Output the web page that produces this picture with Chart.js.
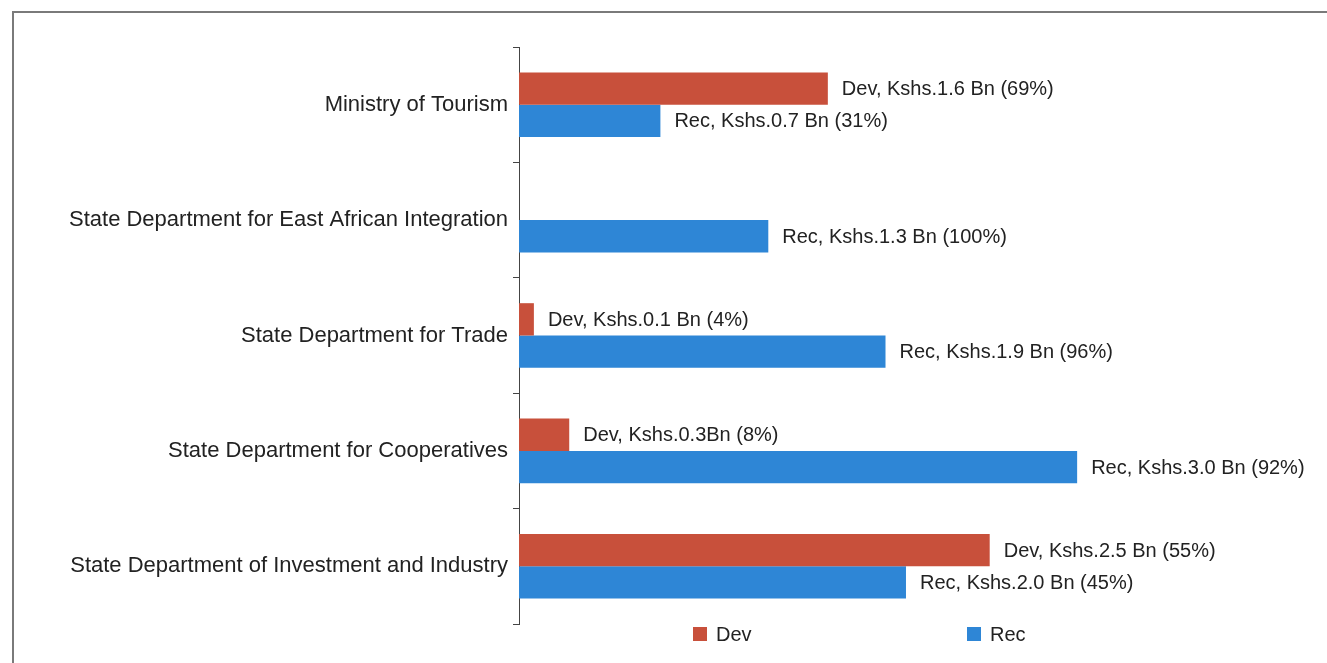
<!DOCTYPE html>
<html>
<head>
<meta charset="utf-8">
<script src="https://cdn.jsdelivr.net/npm/chart.js@4"></script>
<style>
  body { margin: 0; background: #fff; font-family: "Liberation Sans", Arial, sans-serif; }
  #wrap { position: relative; width: 1327px; height: 663px; overflow: hidden; }
  #frame { position: absolute; left: 12px; top: 11px; width: 1400px; height: 700px;
           border-top: 2px solid #7a7a7a; border-left: 2px solid #7a7a7a; }
  #barChart { position: absolute; left: 0; top: 0; }
  .lg-box { position: absolute; width: 14px; height: 14px; }
  .lg-text { position: absolute; font-size: 20px; color: #222; line-height: 20px; }
</style>
</head>
<body>
<div id="wrap">
  <div id="frame"></div>
  <canvas id="barChart" width="1327" height="663"></canvas>
  <div id="legend"></div>
</div>
<script>
const kategori = [
    'Ministry of Tourism',
    'State Department for East African Integration',
    'State Department for Trade',
    'State Department for Cooperatives',
    'State Department of Investment and Industry'
];
// Kshs. Bn
const devData = [1.66, null, 0.08, 0.27, 2.53];
const recData = [0.76, 1.34, 1.97, 3.0, 2.08];
const devLabels = ['Dev, Kshs.1.6 Bn (69%)', '', 'Dev, Kshs.0.1 Bn (4%)', 'Dev, Kshs.0.3Bn (8%)', 'Dev, Kshs.2.5 Bn (55%)'];
const recLabels = ['Rec, Kshs.0.7 Bn (31%)', 'Rec, Kshs.1.3 Bn (100%)', 'Rec, Kshs.1.9 Bn (96%)', 'Rec, Kshs.3.0 Bn (92%)', 'Rec, Kshs.2.0 Bn (45%)'];

const merah = '#c8503b';
const biru = '#2e86d6';

// tulis label di ujung batang
const labelBatang = {
    id: 'labelBatang',
    afterDatasetsDraw(chart) {
        const ctx = chart.ctx;
        ctx.save();
        ctx.font = '20px "Liberation Sans", Arial, sans-serif';
        ctx.fillStyle = '#222';
        ctx.textBaseline = 'middle';
        ctx.textAlign = 'left';
        chart.data.datasets.forEach((ds, i) => {
            chart.getDatasetMeta(i).data.forEach((bar, j) => {
                if (ds.data[j] == null) return;
                ctx.fillText(ds.teks[j], bar.x + 14, bar.y + 1);
            });
        });
        ctx.restore();
    }
};

const barChart = new Chart(document.getElementById('barChart'), {
    type: 'bar',
    data: {
        labels: kategori,
        datasets: [
            { label: 'Dev', data: devData, teks: devLabels, backgroundColor: merah },
            { label: 'Rec', data: recData, teks: recLabels, backgroundColor: biru }
        ]
    },
    options: {
        indexAxis: 'y',
        responsive: false,
        animation: false,
        layout: { padding: { top: 47, bottom: 39, left: 0, right: 8 } },
        datasets: { bar: { categoryPercentage: 0.56, barPercentage: 1.0 } },
        plugins: { legend: { display: false }, tooltip: { enabled: false } },
        scales: {
            x: { display: false, min: 0, max: 4.3 },
            y: {
                afterFit(scale) { scale.width = 519; },
                grid: { drawOnChartArea: false, tickLength: 6, color: '#444' },
                border: { color: '#444', width: 1 },
                ticks: {
                    padding: 5,
                    color: '#222',
                    font: { family: '"Liberation Sans", Arial, sans-serif', size: 22 }
                }
            }
        }
    },
    plugins: [labelBatang]
});

// legenda di bawah
const legend = document.getElementById('legend');
barChart.data.datasets.forEach((ds, i) => {
    const x = 693 + i * 274;
    const box = document.createElement('div');
    box.className = 'lg-box';
    box.style.left = x + 'px';
    box.style.top = '627px';
    box.style.background = ds.backgroundColor;
    const txt = document.createElement('div');
    txt.className = 'lg-text';
    txt.style.left = (x + 23) + 'px';
    txt.style.top = '624px';
    txt.innerText = ds.label;
    legend.appendChild(box);
    legend.appendChild(txt);
});
</script>
</body>
</html>
